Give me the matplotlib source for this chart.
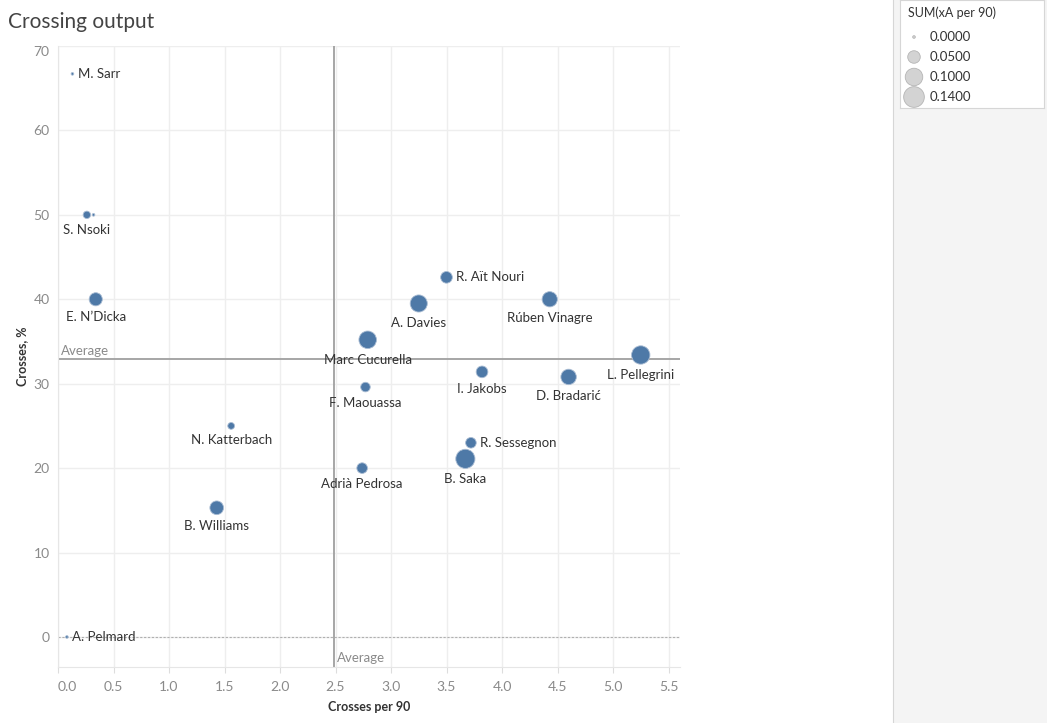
import numpy as np
import matplotlib

matplotlib.use("Agg")
import matplotlib.pyplot as plt

plt.rcParams["font.family"] = ["Lato", "DejaVu Sans"]

# values
players = [
    "M. Sarr", "S. Nsoki", "", "E. N\u2019Dicka", "A. Pelmard", "N. Katterbach",
    "B. Williams", "Marc Cucurella", "A. Davies", "R. A\u00eft Nouri", "R\u00faben Vinagre",
    "L. Pellegrini", "I. Jakobs", "D. Bradari\u0107", "F. Maouassa", "R. Sessegnon",
    "B. Saka", "Adri\u00e0 Pedrosa",
]
crosses_per_90 = [0.13, 0.26, 0.32, 0.34, 0.08, 1.56, 1.43, 2.79, 3.25, 3.50, 4.43,
                  5.25, 3.82, 4.60, 2.77, 3.72, 3.67, 2.74]
cross_pct = [66.7, 50.0, 50.0, 40.0, 0.0, 25.0, 15.3, 35.2, 39.5, 42.6, 40.0,
             33.4, 31.4, 30.8, 29.6, 23.0, 21.1, 20.0]
xa_per_90 = [0.0, 0.016, 0.0, 0.055, 0.0, 0.013, 0.06, 0.10, 0.095, 0.043, 0.075,
             0.11, 0.043, 0.077, 0.028, 0.035, 0.12, 0.035]
label_side = ["right", "below", None, "below", "right", "below", "below", "below", "below",
              "right", "below", "below", "below", "below", "below", "right", "below", "below"]

avg_crosses = 2.486
avg_pct = 32.9

x_ticks = [0.0, 0.5, 1.0, 1.5, 2.0, 2.5, 3.0, 3.5, 4.0, 4.5, 5.0, 5.5]
y_ticks = [0, 10, 20, 30, 40, 50, 60, 70]
legend_values = [0.0, 0.05, 0.10, 0.14]

DPI = 100
W, H = 1047, 723


def diameter_px(v):
    return np.sqrt(7 + 3000 * np.asarray(v))


def marker_area(v):
    return (diameter_px(v) * 72 / DPI) ** 2


fig = plt.figure(figsize=(W / DPI, H / DPI), dpi=DPI)
fig.patch.set_facecolor("white")

# right-hand panel
panel = fig.add_axes([893 / W, 0, 1 - 893 / W, 1])
panel.set_facecolor("#f4f4f4")
panel.set_xticks([])
panel.set_yticks([])
for side, sp in panel.spines.items():
    sp.set_visible(side == "left")
    sp.set_color("#d6d6d6")

left, right, top, bottom = 58, 680, 46, 667
ax = fig.add_axes([left / W, 1 - bottom / H, (right - left) / W, (bottom - top) / H])
ax.set_xlim(0, (right - left) / 111.0)
ax.set_ylim(-(bottom - 637) / 8.43, 70)

ax.set_xticks(x_ticks)
ax.set_yticks(y_ticks)
ax.grid(True, color="#eeeeee", lw=1)
ax.set_axisbelow(True)
for side in ["top", "right"]:
    ax.spines[side].set_visible(False)
for side in ["left", "bottom"]:
    ax.spines[side].set_color("#e6e6e6")
ax.tick_params(axis="x", colors="#dddddd", length=4, labelcolor="#8a8a8a", labelsize=10, pad=6)
ax.tick_params(axis="y", length=0, labelcolor="#8a8a8a", labelsize=10, pad=6)
ax.set_xticklabels([f"{t:.1f}" for t in x_ticks])
ax.set_yticklabels([str(t) for t in y_ticks])
ax.get_xticklabels()[0].set_horizontalalignment("left")
ax.get_yticklabels()[-1].set_verticalalignment("top")

ax.axhline(0, color="#b0b0b0", lw=0.8, ls=(0, (2, 1.5)), zorder=1)
ax.axvline(avg_crosses, color="#a6a6a6", lw=1.4, zorder=2)
ax.axhline(avg_pct, color="#a6a6a6", lw=1.4, zorder=2)
ax.annotate("Average", (avg_crosses, ax.get_ylim()[0]), xytext=(3, 3), textcoords="offset pixels",
            ha="left", va="bottom", fontsize=9.5, color="#8a8a8a")
ax.annotate("Average", (0, avg_pct), xytext=(3, 2), textcoords="offset pixels",
            ha="left", va="bottom", fontsize=9.5, color="#8a8a8a")

ax.scatter(crosses_per_90, cross_pct, s=marker_area(xa_per_90), c="#4e79a7",
           edgecolors="#a9bcd3", linewidths=0.6, zorder=3)

for name, x, y, v, side in zip(players, crosses_per_90, cross_pct, xa_per_90, label_side):
    if side is None:
        continue
    r = diameter_px(v) / 2
    if side == "below":
        ax.annotate(name, (x, y), xytext=(0, -(r + 11)), textcoords="offset pixels",
                    ha="center", va="center", fontsize=9.5, color="#333333", zorder=4)
    else:
        ax.annotate(name, (x, y), xytext=(r + 4, 0), textcoords="offset pixels",
                    ha="left", va="center", fontsize=9.5, color="#333333", zorder=4)

ax.set_xlabel("Crosses per 90", fontsize=9, color="#333333", fontweight="bold", labelpad=6)
ax.set_ylabel("Crosses, %", fontsize=9, color="#333333", fontweight="bold", labelpad=4)

fig.text(8 / W, 1 - 22 / H, "Crossing output", fontsize=15, color="#444444",
         ha="left", va="center")

# size legend
leg = fig.add_axes([900 / W, 1 - 108 / H, 144 / W, 108 / H])
leg.set_xlim(0, 144)
leg.set_ylim(108, 0)
leg.set_facecolor("white")
leg.set_xticks([])
leg.set_yticks([])
for sp in leg.spines.values():
    sp.set_color("#d6d6d6")
leg.text(8, 13, "SUM(xA per 90)", fontsize=9, color="#333333", va="center", ha="left")
leg_y = [37, 57, 77, 97]
leg.scatter([14] * len(legend_values), leg_y, s=marker_area(legend_values), c="#d3d3d3",
            edgecolors="#b5b5b5", linewidths=0.6)
for v, y in zip(legend_values, leg_y):
    leg.text(30, y, f"{v:.4f}", fontsize=9.5, color="#333333", va="center", ha="left")

fig.savefig("out.png", dpi=DPI)
